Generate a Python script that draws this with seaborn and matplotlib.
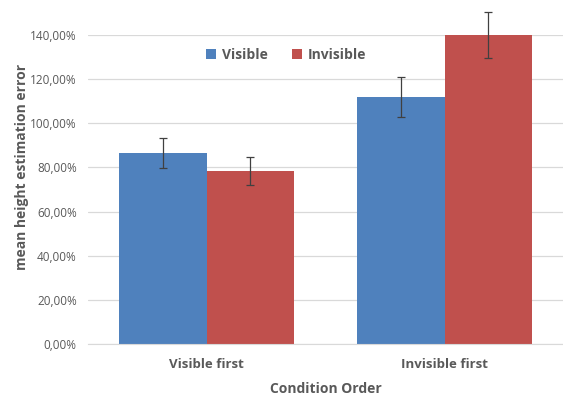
import numpy as np
import pandas as pd
import matplotlib
matplotlib.use("Agg")
import matplotlib.pyplot as plt
from matplotlib.ticker import FuncFormatter
import seaborn as sns

# values (fractions, 1.0 = 100%)
orders = ["Visible first", "Invisible first"]
conditions = ["Visible", "Invisible"]
visible_mean = [0.864, 1.118]
invisible_mean = [0.785, 1.400]
visible_err = [0.069, 0.091]
invisible_err = [0.063, 0.106]

df = pd.DataFrame({
    "order": orders * 2,
    "condition": ["Visible"] * 2 + ["Invisible"] * 2,
    "error": visible_mean + invisible_mean,
    "err": visible_err + invisible_err,
})

sns.set_style("white")
plt.rcParams['font.family'] = ['Open Sans', 'DejaVu Sans']
grey = "#595959"

fig = plt.figure(figsize=(5.63, 3.98), dpi=100)
ax = fig.add_axes([0.156, 0.136, 0.845, 0.776])

palette = {"Visible": "#4F81BD", "Invisible": "#C0504D"}
sns.barplot(data=df, x="order", y="error", hue="condition", order=orders,
            hue_order=conditions, palette=palette, errorbar=None,
            width=0.735, saturation=1, linewidth=0, ax=ax, zorder=2)

# error bars placed on the bar centres seaborn computed
for cont, cond in zip(ax.containers, conditions):
    sub = df[df["condition"] == cond].set_index("order").loc[orders]
    xs = [p.get_x() + p.get_width() / 2 for p in cont.patches]
    ax.errorbar(xs, sub["error"], yerr=sub["err"], fmt="none",
                ecolor="#404040", elinewidth=0.9, capsize=3, capthick=0.9,
                zorder=3, clip_on=False)

ax.set_xlim(-0.5, 1.5)
ax.set_ylim(0, 1.4)
ax.set_yticks(np.arange(0, 1.41, 0.2))
ax.yaxis.set_major_formatter(FuncFormatter(
    lambda v, p: f"{v * 100:.2f}%".replace(".", ",")))
ax.yaxis.grid(True, color="#D9D9D9", linewidth=0.9, zorder=0)
ax.set_axisbelow(True)
for s in ["top", "right", "left"]:
    ax.spines[s].set_visible(False)
ax.spines["bottom"].set_color("#D9D9D9")

ax.tick_params(axis="y", labelsize=8.5, colors=grey, length=0, pad=8)
ax.tick_params(axis="x", length=0, pad=10)
for lab in ax.get_xticklabels():
    lab.set_fontsize(9.5)
    lab.set_fontweight("bold")
    lab.set_color(grey)

ax.set_xlabel("Condition Order", fontsize=10, fontweight="bold", color=grey,
              labelpad=8)
ax.set_ylabel("mean height estimation error", fontsize=10, fontweight="bold",
              color=grey)
ax.yaxis.set_label_coords(-0.124, 0.573)

ax.legend(loc="center", bbox_to_anchor=(0.417, 0.935), ncol=2,
          frameon=False, handlelength=0.7, handleheight=0.7,
          handletextpad=0.4, columnspacing=1.8,
          prop={"weight": "bold", "size": 10}, labelcolor=grey)

fig.savefig("out.png", dpi=100)
